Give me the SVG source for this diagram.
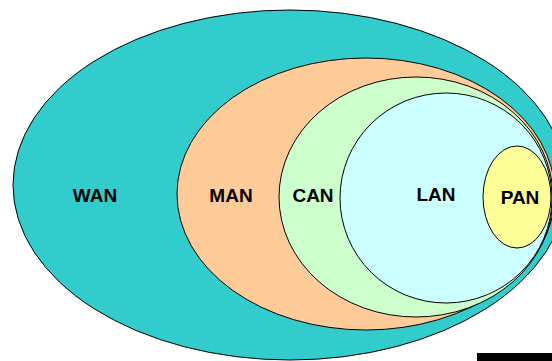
<svg xmlns="http://www.w3.org/2000/svg" width="552" height="361" viewBox="0 0 552 361">
<style>
.e{stroke:#000;stroke-width:1}
.t{font-family:"Liberation Sans",Arial,sans-serif;font-weight:bold;font-size:19px;text-anchor:middle;fill:#000}
</style>
<rect width="552" height="361" fill="#fff"/>
<g id="wan"><ellipse class="e" cx="290" cy="185" rx="277" ry="175" fill="#33CCCC"/><text class="t" x="95" y="202">WAN</text></g>
<g id="man"><ellipse class="e" cx="366" cy="194" rx="189" ry="136" fill="#FFCC99"/><text class="t" x="231" y="202">MAN</text></g>
<g id="can"><ellipse class="e" cx="416" cy="197" rx="137" ry="120" fill="#CCFFCC"/><text class="t" x="313" y="202">CAN</text></g>
<g id="lan"><ellipse class="e" cx="446" cy="198" rx="106" ry="105" fill="#CCFFFF"/><text class="t" x="436" y="201">LAN</text></g>
<g id="pan"><ellipse class="e" cx="517" cy="197" rx="34" ry="51" fill="#FFFF99"/><text class="t" x="520" y="204">PAN</text></g>
<g id="connectors"></g>
<rect x="477" y="353" width="75" height="8" fill="#000"/>
</svg>
